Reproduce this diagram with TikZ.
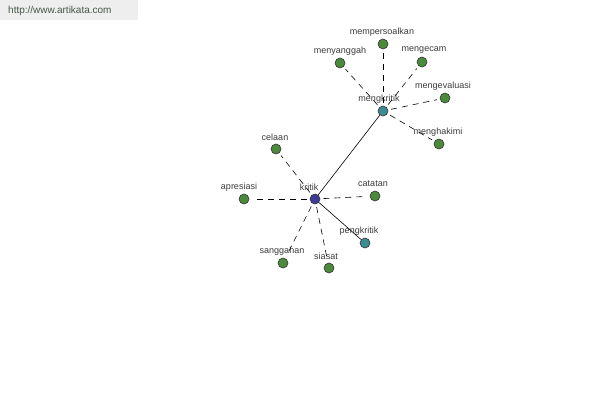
\documentclass[tikz,border=0pt]{standalone}
\usepackage{fontspec}
\setmainfont{Liberation Sans}
\usepackage{tikz}
\usetikzlibrary{positioning}
\usepackage{xcolor}
\definecolor{akgreen}{RGB}{74,138,58}
\definecolor{akteal}{RGB}{58,140,145}
\definecolor{akblue}{RGB}{60,60,150}
\definecolor{akgray}{RGB}{238,238,238}
\definecolor{aktext}{RGB}{60,60,60}
\definecolor{akurl}{RGB}{70,85,70}
\tikzstyle{word} = [circle, draw=black!80, line width=0.6pt, minimum size=10pt, inner sep=0pt, fill=akgreen]
\tikzstyle{hub} = [word, fill=akteal]
\tikzstyle{root} = [word, fill=akblue]
\tikzstyle{tag} = [font=\fontsize{9}{10}\selectfont, text=aktext, inner sep=0pt]
\tikzstyle{link} = [dashed, dash pattern=on 6pt off 5pt, line width=0.6pt, shorten >=3pt, shorten <=3pt]
\tikzstyle{tie} = [line width=0.6pt]

\begin{document}
\begin{tikzpicture}[x=1pt, y=-1pt]
\useasboundingbox (0,0) rectangle (600,400);
\fill[white] (0,0) rectangle (600,400);
% site banner
\fill[akgray] (0,0) rectangle (138,20);
\node[anchor=west, font=\fontsize{10}{11}\selectfont, text=akurl, inner sep=0pt] (url) at (8,10.5) {http://www.artikata.com};

% centre word
\node[root] (kritik) at (315,199) {};
\node[tag] at (309,187) {kritik};

% second level
\node[hub] (mengkritik) at (383,111) {};
\node[tag] at (379,99) {mengkritik};
\node[hub] (pengkritik) at (365,243) {};
\node[tag] at (359,231) {pengkritik};

% words round kritik
\node[word] (celaan) at (276,149) {};
\node[tag] at (275,137) {celaan};
\node[word] (apresiasi) at (244,199) {};
\node[tag] at (239,187) {apresiasi};
\node[word] (catatan) at (375,196) {};
\node[tag] at (373,184) {catatan};
\node[word] (sanggahan) at (283,263) {};
\node[tag] at (282,251) {sanggahan};
\node[word] (siasat) at (329,268) {};
\node[tag] at (326,256) {siasat};

% words round mengkritik
\node[word] (mempersoalkan) at (383,44) {};
\node[tag] at (382,32) {mempersoalkan};
\node[word] (menyanggah) at (340,63) {};
\node[tag] at (340,51) {menyanggah};
\node[word] (mengecam) at (422,62) {};
\node[tag] at (424,50) {mengecam};
\node[word] (mengevaluasi) at (445,98) {};
\node[tag] at (443,86) {mengevaluasi};
\node[word] (menghakimi) at (439,144) {};
\node[tag] at (438,132) {menghakimi};

% connectors
\foreach \w in {celaan,apresiasi,catatan,sanggahan,siasat}
  \draw[link] (kritik) -- (\w);
\foreach \w in {mempersoalkan,menyanggah,mengecam,mengevaluasi,menghakimi}
  \draw[link] (mengkritik) -- (\w);
\draw[tie] (kritik) -- (mengkritik);
\draw[tie] (kritik) -- (pengkritik);
\end{tikzpicture}
\end{document}
